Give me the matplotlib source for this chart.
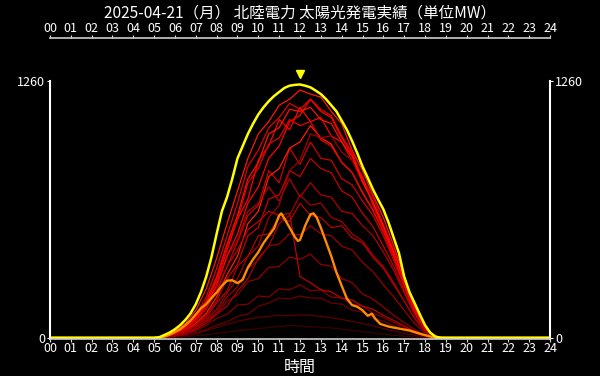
import numpy as np
import matplotlib
matplotlib.use("Agg")
import matplotlib.pyplot as plt

plt.rcParams['font.family'] = ['Noto Sans CJK JP', 'DejaVu Sans']

title = "2025-04-21（月） 北陸電力 太陽光発電実績（単位MW）"
hour_labels = [f"{h:02d}" for h in range(25)]

# 今月の最大値 (黄)
max_t = [0, 5.0, 5.25, 5.5, 5.75, 6.0, 6.25, 6.5, 6.75, 7.0, 7.25, 7.5, 7.75, 8.0, 8.25, 8.5,
         8.75, 9.0, 9.25, 9.5, 9.75, 10.0, 10.25, 10.5, 10.75, 11.0, 11.25, 11.5, 11.75, 12.0,
         12.25, 12.5, 12.75, 13.0, 13.25, 13.5, 13.75, 14.0, 14.25, 14.5, 14.75, 15.0, 15.25,
         15.5, 15.75, 16.0, 16.25, 16.5, 16.75, 17.0, 17.25, 17.5, 17.75, 18.0, 18.25, 18.5,
         18.75, 24]
max_v = [0, 0, 3, 14, 26, 42, 62, 88, 120, 165, 225, 300, 395, 510, 620, 690,
         780, 880, 940, 1000, 1050, 1095, 1130, 1160, 1185, 1205, 1225, 1236, 1240, 1242,
         1236, 1228, 1212, 1195, 1170, 1140, 1110, 1065, 1020, 965, 905, 840, 785,
         728, 678, 630, 565, 490, 415, 300, 225, 170, 115, 62, 25, 6,
         0, 0]

# 当日 (橙)
today_t = [0, 5.25, 5.5, 5.75, 6.0, 6.25, 6.5, 6.75, 7.0, 7.25, 7.5, 7.75, 8.0, 8.25, 8.5, 8.75,
           9.0, 9.25, 9.5, 9.75, 10.0, 10.25, 10.5, 10.75, 11.0, 11.1, 11.25, 11.5, 11.75, 11.9,
           12.0, 12.25, 12.5, 12.65, 12.8, 13.0, 13.25, 13.5, 13.75, 14.0, 14.25, 14.5, 14.75,
           15.0, 15.25, 15.45, 15.6, 15.85, 16.25, 16.75, 17.25, 17.75, 18.25, 18.5, 24]
today_v = [0, 0, 6, 15, 28, 42, 62, 85, 115, 145, 165, 195, 222, 255, 280, 282,
           268, 285, 345, 385, 420, 465, 500, 535, 600, 610, 585, 540, 495, 475,
           480, 550, 605, 610, 590, 540, 470, 400, 320, 255, 192, 160, 152,
           135, 108, 118, 95, 68, 55, 45, 36, 20, 6, 0, 0]

# 過去日 (赤) 30分値 5:00-19:00
day_t = [5.0, 5.5, 6.0, 6.5, 7.0, 7.5, 8.0, 8.5, 9.0, 9.5, 10.0, 10.5, 11.0, 11.5, 12.0,
         12.5, 13.0, 13.5, 14.0, 14.5, 15.0, 15.5, 16.0, 16.5, 17.0, 17.5, 18.0, 18.5, 19.0]
day01 = [0, 8, 32, 70, 135, 240, 390, 560, 720, 880, 1000, 1060, 1140, 1170, 1215, 1195, 1180, 1110, 1050, 920, 820, 700, 590, 450, 300, 160, 55, 5, 0]
day02 = [0, 6, 25, 55, 110, 200, 340, 500, 660, 840, 920, 1030, 1080, 1150, 1120, 1170, 1120, 1090, 990, 910, 780, 690, 555, 430, 285, 150, 50, 4, 0]
day03 = [0, 5, 20, 50, 100, 170, 280, 430, 580, 680, 870, 940, 1070, 1020, 1130, 1060, 1080, 990, 960, 870, 790, 650, 540, 410, 270, 140, 45, 4, 0]
day04 = [0, 1, 4, 10, 20, 35, 50, 65, 80, 92, 100, 105, 110, 108, 112, 110, 105, 98, 90, 80, 70, 58, 45, 33, 22, 12, 4, 0, 0]
day05 = [0, 4, 18, 40, 80, 140, 230, 350, 470, 600, 650, 820, 760, 930, 850, 960, 880, 870, 780, 750, 670, 600, 500, 380, 250, 130, 42, 3, 0]
day06 = [0, 3, 15, 35, 70, 120, 200, 310, 400, 560, 620, 790, 830, 930, 960, 1040, 980, 950, 860, 810, 710, 625, 520, 400, 260, 135, 45, 3, 0]
day07 = [0, 4, 18, 40, 85, 150, 250, 400, 480, 620, 660, 740, 670, 780, 690, 760, 700, 690, 620, 610, 550, 500, 420, 330, 220, 115, 38, 3, 0]
day08 = [0, 3, 14, 32, 65, 110, 180, 290, 360, 500, 540, 680, 700, 820, 790, 880, 830, 810, 720, 690, 610, 545, 450, 350, 230, 120, 40, 3, 0]
day09 = [0, 5, 20, 45, 90, 160, 260, 400, 510, 660, 740, 880, 940, 1060, 1090, 1170, 1110, 1080, 980, 900, 770, 665, 540, 410, 270, 140, 48, 4, 0]
day10 = [0, 2, 10, 25, 50, 90, 140, 220, 290, 400, 450, 590, 650, 820, 870, 1000, 980, 990, 910, 870, 760, 665, 550, 420, 275, 140, 48, 4, 0]
day11 = [0, 3, 12, 30, 60, 100, 170, 230, 350, 400, 500, 510, 590, 570, 660, 600, 590, 540, 550, 490, 465, 395, 340, 260, 180, 95, 32, 2, 0]
day12 = [0, 2, 10, 22, 45, 80, 115, 180, 210, 275, 290, 345, 350, 395, 385, 410, 360, 350, 290, 270, 215, 190, 150, 110, 75, 40, 14, 1, 0]
day13 = [0, 2, 8, 18, 35, 60, 95, 115, 160, 165, 205, 200, 240, 235, 260, 230, 235, 200, 195, 165, 155, 120, 100, 75, 50, 28, 10, 1, 0]
day14 = [0, 1, 5, 12, 25, 40, 62, 78, 105, 115, 155, 170, 195, 190, 205, 195, 195, 170, 165, 135, 125, 95, 82, 58, 40, 22, 8, 1, 0]
day15 = [0, 6, 24, 55, 105, 180, 300, 460, 600, 780, 860, 1000, 1030, 1120, 1110, 1130, 1070, 1050, 960, 890, 765, 665, 550, 420, 280, 145, 50, 4, 0]
day16 = [0, 1, 3, 6, 10, 15, 22, 28, 35, 40, 45, 50, 55, 60, 58, 55, 52, 48, 42, 36, 30, 24, 18, 12, 8, 4, 1, 0, 0]
day17 = [0, 4, 18, 40, 80, 145, 225, 350, 430, 530, 570, 620, 600, 610, 300, 270, 235, 225, 195, 185, 155, 140, 110, 85, 58, 32, 12, 1, 0]
day18 = [0, 2, 8, 20, 40, 70, 115, 155, 230, 290, 390, 450, 560, 600, 700, 650, 660, 590, 570, 510, 475, 405, 350, 270, 180, 95, 32, 2, 0]
day19 = [0, 5, 22, 50, 100, 175, 290, 450, 580, 760, 830, 950, 980, 1070, 1040, 1060, 970, 940, 860, 810, 715, 625, 520, 395, 260, 135, 45, 4, 0]
day20 = [0, 2, 10, 24, 48, 85, 125, 200, 250, 340, 380, 450, 460, 510, 505, 550, 510, 500, 450, 430, 370, 325, 260, 200, 135, 70, 24, 2, 0]

days = [day01, day02, day03, day04, day05, day06, day07, day08, day09, day10,
        day11, day12, day13, day14, day15, day16, day17, day18, day19, day20]
day_colors = ['#ff1a00', '#e00000', '#ff0000', '#5a0000', '#d00000', '#ff2000', '#b00000',
              '#c80000', '#ff0000', '#a00000', '#b80000', '#900000', '#800000', '#6a0000',
              '#ff1000', '#3c0000', '#c00000', '#a80000', '#e80000', '#980000']

y_top = 1260


def main():
    fig, ax = plt.subplots(figsize=(6, 3.76), dpi=100)
    fig.patch.set_facecolor('black')
    ax.set_facecolor('black')
    fig.subplots_adjust(left=0.0833, right=0.9167, bottom=0.0984, top=0.899)

    for v, c in zip(days, day_colors):
        ax.plot(day_t, v, color=c, lw=0.9)
    ax.plot(today_t, today_v, color='#ff8c00', lw=1.7)
    ax.plot(max_t, max_v, color='yellow', lw=1.8)

    # 最大値の位置
    i_max = int(np.argmax(max_v))
    ax.plot(max_t[i_max], max_v[i_max] * 1.04, marker='v', color='yellow', ms=6, ls='none')

    ax.set_xlim(0, 24)
    ax.set_ylim(-6, 1470)
    ax.set_xticks(range(25))
    ax.set_xticklabels(hour_labels)
    ax.set_yticks([0, y_top])
    ax.set_yticklabels(['0', str(y_top)])

    ax.tick_params(axis='x', top=True, labeltop=True, colors='#dddddd', labelsize=9,
                   length=2, pad=0.3, labelcolor='white')
    ax.tick_params(axis='y', right=True, labelright=True, colors='white', labelsize=9,
                   length=2, pad=1.5)
    for s in ['top', 'bottom']:
        ax.spines[s].set_color('#cccccc')
        ax.spines[s].set_linewidth(1.2)
    for s in ['left', 'right']:
        ax.spines[s].set_color('white')
        ax.spines[s].set_linewidth(1.5)
        ax.spines[s].set_bounds(-6, y_top)

    ax.set_xlabel("時間", color='white', fontsize=11.5, labelpad=2.5)
    fig.text(0.5, 1 - 13 / 376, title, color='white', fontsize=11.2, ha='center', va='center')

    fig.savefig("out.png", facecolor='black')


if __name__ == '__main__':
    main()
